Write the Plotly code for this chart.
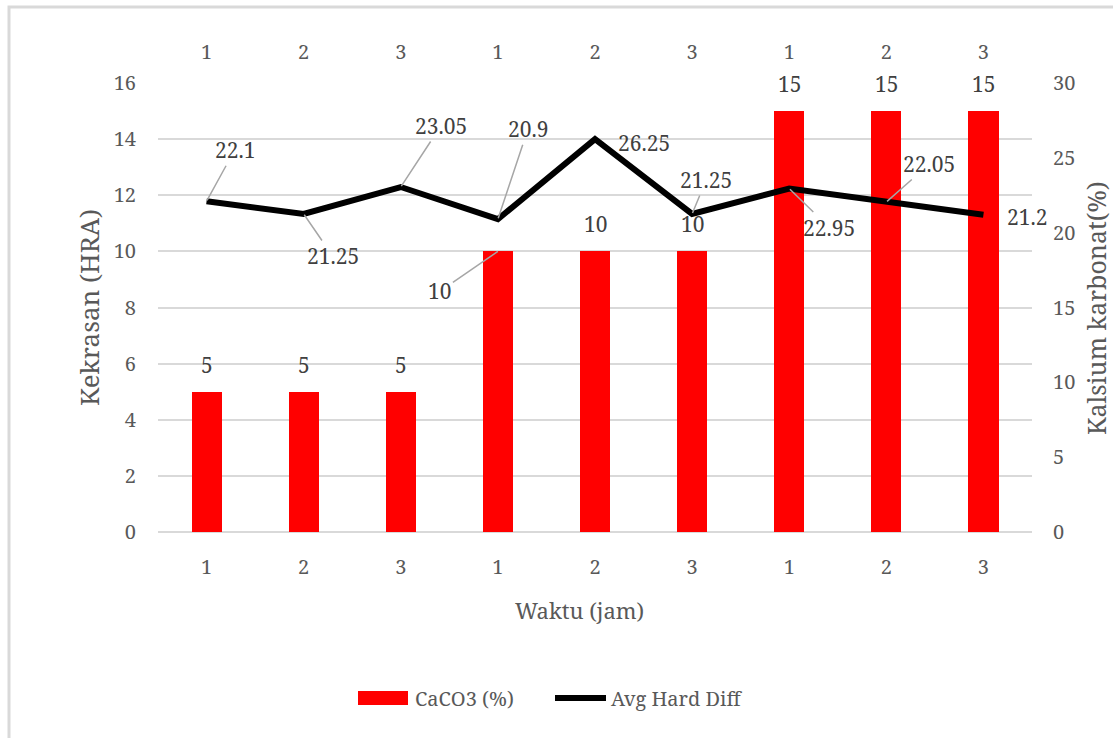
import plotly.graph_objects as go

# ---- data ----
waktu_labels = ["1", "2", "3", "1", "2", "3", "1", "2", "3"]
caco3_pct = [5, 5, 5, 10, 10, 10, 15, 15, 15]
avg_hard_diff = [22.1, 21.25, 23.05, 20.9, 26.25, 21.25, 22.95, 22.05, 21.2]

# ---- figure geometry (pixels) ----
W, H = 1113, 738
L, R, T, B = 158, 1032, 83, 532
PW, PH = R - L, B - T


def px_x(p):
    return (p - L) / PW


def px_y(p):
    return (B - p) / PH


SERIF = "Noto Serif, DejaVu Serif, serif"
TICK_COLOR = "#595959"
LABEL_COLOR = "#404040"
GRID = "#d9d9d9"

xs = list(range(len(waktu_labels)))

fig = go.Figure()
fig.add_trace(go.Bar(
    x=xs, y=caco3_pct, name="CaCO3 (%)",
    marker=dict(color="#ff0000", line=dict(width=0)),
    width=0.31, xaxis="x", yaxis="y", showlegend=False,
))
fig.add_trace(go.Scatter(
    x=xs, y=avg_hard_diff, name="Avg Hard Diff", mode="lines",
    line=dict(color="#000000", width=6),
    xaxis="x2", yaxis="y2", showlegend=False,
))

annotations = []

# bar value labels (offsets in px above the bar top)
bar_leader = {3: (-58, 40)}
for i, v in enumerate(caco3_pct):
    common = dict(x=xs[i], y=v, xref="x", yref="y", text=str(v),
                  font=dict(family=SERIF, size=21, color=LABEL_COLOR))
    if i in bar_leader:
        ax, ay = bar_leader[i]
        annotations.append(dict(**common, showarrow=True, arrowhead=0,
                                arrowwidth=1.5, arrowcolor="#a6a6a6",
                                ax=ax, ay=ay, standoff=0))
    else:
        annotations.append(dict(**common, showarrow=False, yshift=27))

# line value labels: (dx, dy, leader line)
line_offsets = [
    (28, -51, True), (29, 42, True), (40, -61, True), (30, -90, True),
    (49, 4, False), (14, -34, True), (40, 39, True), (43, -38, True),
    (44, 2, False),
]
for i, v in enumerate(avg_hard_diff):
    dx, dy, leader = line_offsets[i]
    common = dict(x=xs[i], y=v, xref="x2", yref="y2", text=str(v),
                  font=dict(family=SERIF, size=21, color=LABEL_COLOR))
    if leader:
        annotations.append(dict(**common, showarrow=True, arrowhead=0,
                                arrowwidth=1.5, arrowcolor="#a6a6a6",
                                ax=dx, ay=dy, standoff=1))
    else:
        annotations.append(dict(**common, showarrow=False,
                                xshift=dx, yshift=-dy))

# axis titles
title_common = dict(xref="paper", yref="paper", showarrow=False,
                    xanchor="center", yanchor="middle")
annotations.append(dict(**title_common, x=px_x(579), y=px_y(610),
                        text="Waktu (jam)",
                        font=dict(family=SERIF, size=22, color=TICK_COLOR)))
annotations.append(dict(**title_common, x=px_x(89), y=px_y(308),
                        text="Kekrasan (HRA)", textangle=-90,
                        font=dict(family=SERIF, size=26, color=TICK_COLOR)))
annotations.append(dict(**title_common, x=px_x(1096), y=px_y(308),
                        text="Kalsium karbonat(%)", textangle=-90,
                        font=dict(family=SERIF, size=25, color=TICK_COLOR)))

# legend entries
annotations.append(dict(x=px_x(413), y=px_y(698), xref="paper", yref="paper",
                        xanchor="left", yanchor="middle", text="CaCO3 (%)",
                        showarrow=False,
                        font=dict(family=SERIF, size=20, color=TICK_COLOR)))
annotations.append(dict(x=px_x(609), y=px_y(698), xref="paper", yref="paper",
                        xanchor="left", yanchor="middle", text="Avg Hard Diff",
                        showarrow=False,
                        font=dict(family=SERIF, size=20, color=TICK_COLOR)))

shapes = [
    # chart frame
    dict(type="rect", xref="paper", yref="paper",
         x0=px_x(9), x1=px_x(1130), y0=px_y(760), y1=px_y(7),
         line=dict(color=GRID, width=3), layer="below"),
    # legend keys
    dict(type="rect", xref="paper", yref="paper",
         x0=px_x(358), x1=px_x(408), y0=px_y(705), y1=px_y(691),
         fillcolor="#ff0000", line=dict(width=0)),
    dict(type="line", xref="paper", yref="paper",
         x0=px_x(555), x1=px_x(606), y0=px_y(698), y1=px_y(698),
         line=dict(color="#000000", width=6)),
]

tick_font = dict(family=SERIF, size=20, color=TICK_COLOR)

fig.update_layout(
    width=W, height=H,
    margin=dict(l=L, r=W - R, t=T, b=H - B, pad=0),
    paper_bgcolor="white", plot_bgcolor="white",
    font=dict(family=SERIF, color=TICK_COLOR),
    bargap=0,
    xaxis=dict(range=[-0.5, 8.5], tickvals=xs, ticktext=waktu_labels,
               showgrid=False, zeroline=False, showline=False, ticks="",
               tickfont=tick_font, ticklabelstandoff=21, fixedrange=True),
    xaxis2=dict(range=[-0.5, 8.5], tickvals=xs, ticktext=waktu_labels,
                overlaying="x", side="top", anchor="y2",
                showgrid=False, zeroline=False, showline=False, ticks="",
                tickfont=tick_font, ticklabelstandoff=19, fixedrange=True),
    yaxis=dict(range=[0, 16], dtick=2, tick0=0, showgrid=True,
               gridcolor=GRID, gridwidth=2, zeroline=True,
               zerolinecolor=GRID, zerolinewidth=2, showline=False,
               ticks="", tickfont=tick_font, ticklabelstandoff=21,
               fixedrange=True),
    yaxis2=dict(range=[0, 30], dtick=5, tick0=0, overlaying="y",
                side="right", anchor="x", showgrid=False, zeroline=False,
                showline=False, ticks="", tickfont=tick_font,
                ticklabelstandoff=20, fixedrange=True),
    annotations=annotations,
    shapes=shapes,
    showlegend=False,
)

fig.write_html("out.html")
